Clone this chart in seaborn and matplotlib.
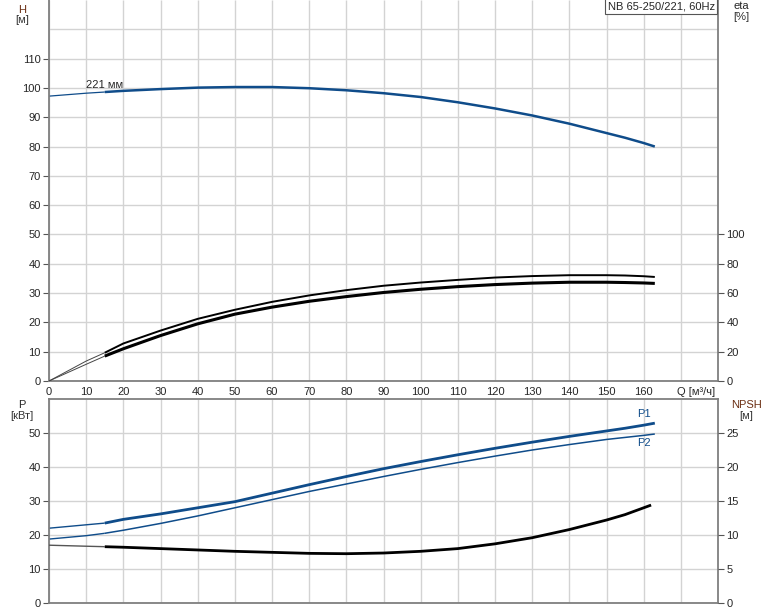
import numpy as np
import pandas as pd
import matplotlib
matplotlib.use("Agg")
import matplotlib.pyplot as plt
import seaborn as sns

# flow points [m3/h]
q = [0, 10, 15, 20, 30, 40, 50, 60, 70, 80, 90, 100, 110, 120, 130, 140, 150, 155, 160, 163]

# head [m]
head = [97.2, 98.2, 98.6, 99.0, 99.6, 100.1, 100.3, 100.3, 99.9, 99.2, 98.2, 96.9,
        95.1, 93.0, 90.6, 87.8, 84.6, 83.0, 81.2, 80.0]

# efficiencies [%]
eta_pump = [0, 13.6, 19.3, 25.6, 34.4, 42.4, 48.6, 54.0, 58.4, 62.0, 65.0, 67.2,
            69.0, 70.6, 71.6, 72.2, 72.2, 72.0, 71.5, 71.0]
eta_total = [0, 11.4, 17.0, 22.0, 31.0, 39.0, 45.6, 50.4, 54.4, 57.6, 60.4, 62.6,
             64.4, 65.8, 66.8, 67.4, 67.4, 67.2, 66.9, 66.6]

# power [kW]
p1 = [22.0, 23.0, 23.5, 24.6, 26.2, 28.0, 29.8, 32.3, 34.8, 37.2, 39.5, 41.6,
      43.6, 45.5, 47.3, 49.0, 50.6, 51.4, 52.3, 52.9]
p2 = [18.8, 19.8, 20.5, 21.4, 23.4, 25.6, 28.0, 30.4, 32.8, 35.0, 37.2, 39.3,
      41.3, 43.2, 45.0, 46.6, 48.1, 48.7, 49.3, 49.7]

# NPSH [m]
q_npsh = [0, 10, 15, 20, 30, 40, 50, 60, 70, 80, 90, 100, 110, 120, 130, 140, 150, 155, 160, 162]
npsh = [8.5, 8.35, 8.28, 8.2, 8.0, 7.8, 7.6, 7.45, 7.3, 7.25, 7.35, 7.6, 8.0, 8.7,
        9.6, 10.8, 12.2, 13.0, 14.0, 14.4]

q_ticks = list(range(0, 171, 10))
q_ticklabels = [str(v) for v in range(0, 161, 10)] + [""]

q_split = 15
blue = "#0f4c8a"
label_col = "#6b2e12"

sns.set_style("whitegrid")
plt.rcParams["font.family"] = ["Liberation Sans", "DejaVu Sans"]
plt.rcParams["font.size"] = 8
plt.rcParams["lines.solid_joinstyle"] = "round"
plt.rcParams["lines.solid_capstyle"] = "butt"

fig = plt.figure(figsize=(7.74, 6.11), dpi=100)
ax_h = fig.add_axes([49 / 774, 1 - 381 / 611, 669 / 774, 381 / 611])
ax_p = fig.add_axes([49 / 774, 1 - 603 / 611, 669 / 774, 204 / 611])
ax_eta = ax_h.twinx()
ax_npsh = ax_p.twinx()


def draw(ax, x, y, color, thin_lw, thick_lw, thin_color=None):
    df = pd.DataFrame({"x": x, "y": y})
    start = df[df["x"] <= q_split]
    rest = df[df["x"] >= q_split]
    sns.lineplot(data=start, x="x", y="y", ax=ax, color=thin_color or color,
                 linewidth=thin_lw, estimator=None, sort=False)
    sns.lineplot(data=rest, x="x", y="y", ax=ax, color=color,
                 linewidth=thick_lw, estimator=None, sort=False)


draw(ax_h, q, head, blue, 0.9, 1.8)
draw(ax_eta, q, eta_pump, "black", 0.7, 1.4, "#444444")
draw(ax_eta, q, eta_total, "black", 0.7, 2.2, "#444444")
draw(ax_p, q, p1, blue, 1.0, 2.0)
draw(ax_p, q, p2, blue, 1.0, 1.1)
draw(ax_npsh, q_npsh, npsh, "black", 1.0, 2.0, "#555555")

xmax = 180
grid_col = "#d3d3d3"
spine_col = "#7f7f7f"

for ax in (ax_h, ax_p):
    ax.set_xlim(0, xmax)
    ax.set_xticks(q_ticks)
    ax.grid(True, color=grid_col, linewidth=1.0)
    ax.set_axisbelow(True)
    ax.set_xlabel("")
    ax.set_ylabel("")
    for s in ax.spines.values():
        s.set_color(spine_col)
        s.set_linewidth(1.3)
    ax.tick_params(axis="both", length=4, width=0.8, color="#555555", pad=2)

for ax in (ax_eta, ax_npsh):
    ax.grid(False)
    ax.set_ylabel("")
    ax.set_xlabel("")
    for s in ax.spines.values():
        s.set_visible(False)
    ax.tick_params(axis="y", length=4, width=0.8, color="#555555", pad=2)

# top panel
ax_h.set_ylim(0, 130)
ax_h.set_yticks(np.arange(0, 111, 10))
ax_h.axhline(120, color=grid_col, linewidth=1.0, zorder=0)
ax_h.spines["top"].set_visible(False)
ax_eta.set_ylim(0, 260)
ax_eta.set_yticks(np.arange(0, 101, 20))
ax_h.set_xticklabels(q_ticklabels)
ax_h.tick_params(axis="x", length=3, pad=1)
ax_h.annotate("Q [м³/ч]", xy=(q_ticks[-1], 0), xycoords="data",
              xytext=(-2.5, -4), textcoords="offset points",
              ha="left", va="top", fontsize=8, annotation_clip=False)

ax_h.text(10, 99.3, "221 мм", fontsize=8, ha="left", va="bottom")
ax_h.text(0.995, 0.997, "NB 65-250/221, 60Hz", transform=ax_h.transAxes,
          ha="right", va="top", fontsize=8,
          bbox=dict(boxstyle="square,pad=0.25", fc="white", ec="#555555", lw=0.8))

fig.text(22 / 774, 1 - 10 / 611, "H", color=label_col, ha="center", va="center", fontsize=8)
fig.text(22 / 774, 1 - 20 / 611, "[м]", color="#333333", ha="center", va="center", fontsize=8)
fig.text(741 / 774, 1 - 6 / 611, "eta", ha="center", va="center", fontsize=8)
fig.text(741 / 774, 1 - 17 / 611, "[%]", color="#333333", ha="center", va="center", fontsize=8)

# bottom panel
ax_p.set_ylim(0, 60)
ax_p.set_yticks(np.arange(0, 51, 10))
ax_p.tick_params(axis="x", labelbottom=False, length=0)
ax_npsh.set_ylim(0, 30)
ax_npsh.set_yticks(np.arange(0, 26, 5))

ax_p.text(160, 54.0, "P1", color=blue, ha="center", va="bottom", fontsize=8)
ax_p.text(160, 48.4, "P2", color=blue, ha="center", va="top", fontsize=8)

fig.text(22 / 774, 1 - 405 / 611, "P", ha="center", va="center", fontsize=8)
fig.text(22 / 774, 1 - 416 / 611, "[кВт]", color="#333333", ha="center", va="center", fontsize=8)
fig.text(746 / 774, 1 - 405 / 611, "NPSH", color=label_col, ha="center", va="center", fontsize=8)
fig.text(746 / 774, 1 - 416 / 611, "[м]", color="#333333", ha="center", va="center", fontsize=8)

fig.savefig("out.png", dpi=100)
